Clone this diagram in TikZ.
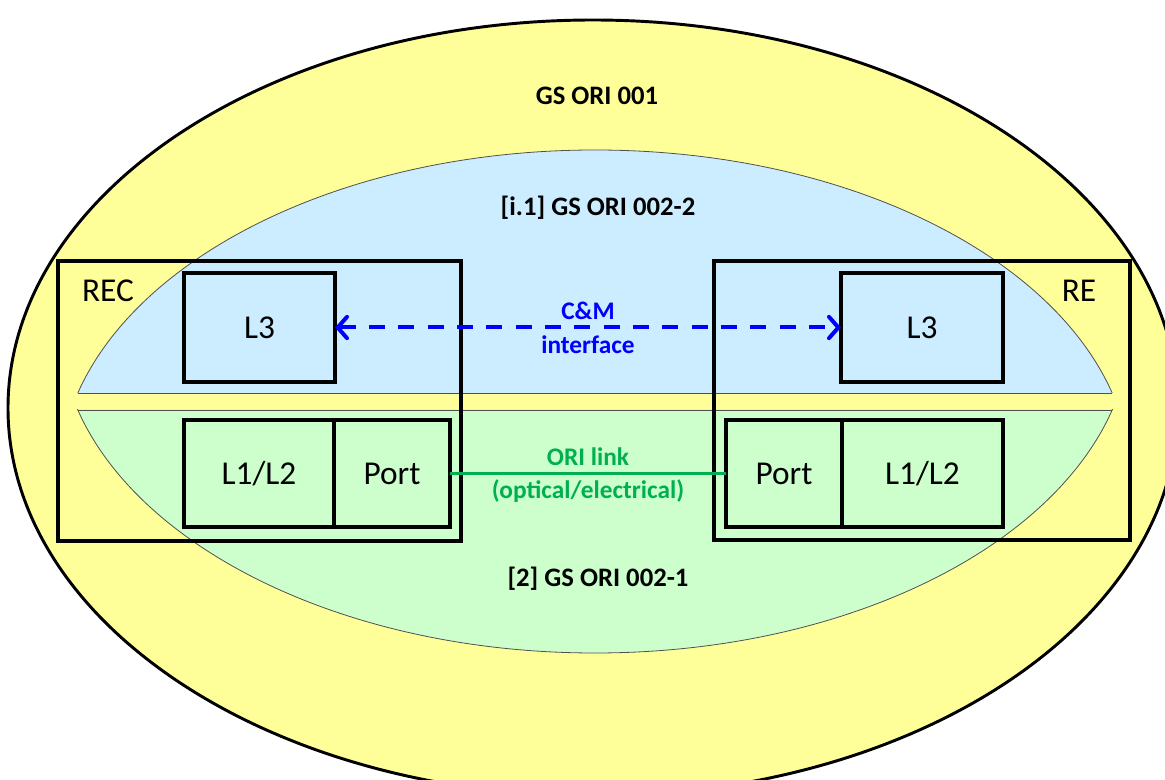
\documentclass[tikz,border=0pt]{standalone}
\usepackage{fontspec}
\setmainfont{Carlito}
\usetikzlibrary{arrows.meta}
\definecolor{ylw}{HTML}{FFFF99}
\definecolor{lblue}{HTML}{CCECFF}
\definecolor{lgreen}{HTML}{CCFFCC}
\definecolor{ogreen}{HTML}{00B050}
\definecolor{edgegray}{HTML}{505050}
\begin{document}
\begin{tikzpicture}[x=0.75pt, y=-0.75pt,
  box/.style={draw=black, line width=2.5pt, inner sep=0pt, outer sep=0pt},
  lbl/.style={font=\fontsize{25}{30}\selectfont, inner sep=0pt},
  ttl/.style={font=\bfseries\fontsize{20}{24}\selectfont, inner sep=0pt},
  note/.style={font=\bfseries\fontsize{19}{23}\selectfont, inner sep=0pt},
  region/.style={draw=edgegray, line width=0.6pt}]
\clip (0,0) rectangle (1165,780);
\fill[white] (0,0) rectangle (1165,780);
% outer ellipse
\draw[fill=ylw, line width=2.2pt] (593,408) ellipse [x radius=585, y radius=388];
% blue region
\begin{scope}
\clip (0,0) rectangle (1165,393);
\draw[region, fill=lblue] (595,480) ellipse [x radius=536, y radius=330];
\end{scope}
\draw[region] (78,393) -- (1112,393);
% green region
\begin{scope}
\clip (0,410) rectangle (1165,780);
\draw[region, fill=lgreen] (595,323) ellipse [x radius=536, y radius=330];
\end{scope}
\draw[region] (78,410) -- (1112,410);
% titles
\node[ttl] (t1) at (597,96) {GS ORI 001};
\node[ttl] (t2) at (598,208) {[i.1] GS ORI 002-2};
\node[ttl] (t3) at (598,579) {[2] GS ORI 002-1};
% outer boxes
\node[box, minimum width=302.25pt, minimum height=210pt] (rec) at (259.5,401) {};
\node[box, minimum width=312pt, minimum height=209.25pt] (re) at (922,400.5) {};
\node[lbl] (reclbl) at (108,291) {REC};
\node[lbl] (relbl) at (1079,291) {RE};
% L3 boxes
\node[box, minimum width=113.25pt, minimum height=81.75pt, font=\fontsize{25}{30}\selectfont] (recl3) at (259.5,327.5) {L3};
\node[box, minimum width=121.5pt, minimum height=81.75pt, font=\fontsize{25}{30}\selectfont] (rel3) at (922,327.5) {L3};
% L1/L2 and Port boxes
\node[box, minimum width=112.5pt, minimum height=80.25pt, font=\fontsize{25}{30}\selectfont] (recl12) at (259,473.5) {L1/L2};
\node[box, minimum width=87pt, minimum height=80.25pt, font=\fontsize{25}{30}\selectfont] (recport) at (392,473.5) {Port};
\node[box, minimum width=87pt, minimum height=80.25pt, font=\fontsize{25}{30}\selectfont] (report) at (784,473.5) {Port};
\node[box, minimum width=120.75pt, minimum height=80.25pt, font=\fontsize{25}{30}\selectfont] (rel12) at (922.5,473.5) {L1/L2};
% C&M interface
\draw[blue, line width=3pt, dash pattern=on 12pt off 10pt,
  {Straight Barb[length=7pt, width=16pt, line width=3pt, line cap=round]}-{Straight Barb[length=7pt, width=16pt, line width=3pt, line cap=round]}]
  (recl3.east) -- (rel3.west);
\node[note, text=blue] (cm) at (588,311) {C\&M};
\node[note, text=blue] (cmi) at (588,345) {interface};
% ORI link
\draw[ogreen, line width=2.2pt] (recport.east) -- (report.west);
\node[note, text=ogreen] (ori) at (588,457) {ORI link};
\node[note, text=ogreen] (orio) at (588,491) {(optical/electrical)};
\end{tikzpicture}
\end{document}
